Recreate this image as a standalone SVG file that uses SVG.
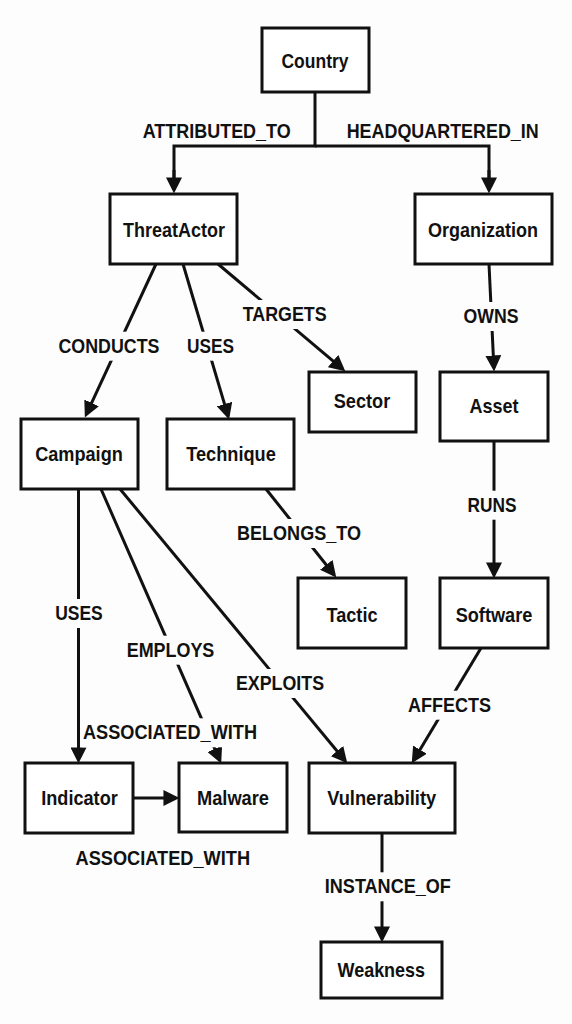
<svg xmlns="http://www.w3.org/2000/svg" width="572" height="1024" viewBox="0 0 572 1024">
<style>
.box{fill:#fff;stroke:#111;stroke-width:3}
.edge{fill:none;stroke:#111;stroke-width:3}
.arr{marker-end:url(#ah)}
text{font-family:"Liberation Sans",Arial,sans-serif;font-weight:bold;font-size:21px;fill:#111;text-anchor:middle}
.bg{fill:#fdfdfd;stroke:none}
</style>
<defs>
<marker id="ah" markerUnits="userSpaceOnUse" markerWidth="16" markerHeight="16" refX="11" refY="7" orient="auto" viewBox="0 0 14 14">
<path d="M0,0 L14,7 L0,14 z" fill="#111"/>
</marker>
</defs>
<rect width="572" height="1024" fill="#fdfdfd"/>

<g id="connectors">
<path class="edge" d="M315,92 V146 H174 V190"/>
<path class="edge" d="M315,146 H489 V190"/>
<path class="edge arr" d="M174,170 V190"/>
<path class="edge arr" d="M489,170 V190"/>
<path class="edge arr" d="M156,264 L86.3,414.3"/>
<path class="edge arr" d="M183,264 L228.1,416.1"/>
<path class="edge arr" d="M218,264 L342.7,369.1"/>
<path class="edge arr" d="M489,264 L493.9,368"/>
<path class="edge arr" d="M494,441 V575"/>
<path class="edge arr" d="M266,489 L334.1,574.7"/>
<path class="edge arr" d="M78.5,489 V760"/>
<path class="edge arr" d="M101,489 L219.8,760.3"/>
<path class="edge arr" d="M120,489 L345.1,760.7"/>
<path class="edge arr" d="M481,648 L413.5,760.4"/>
<path class="edge arr" d="M133,798 H176"/>
<path class="edge arr" d="M382,833 V939"/>
<g id="edge-labels">
<text x="216.7" y="138.3" textLength="148" lengthAdjust="spacingAndGlyphs">ATTRIBUTED_TO</text>
<text x="442.7" y="138.3" textLength="192" lengthAdjust="spacingAndGlyphs">HEADQUARTERED_IN</text>
<rect class="bg" x="56.4" y="331.7" width="105" height="29"/>
<text x="109" y="352.7" textLength="101" lengthAdjust="spacingAndGlyphs">CONDUCTS</text>
<rect class="bg" x="184.9" y="331.7" width="51" height="29"/>
<text x="210.6" y="352.7" textLength="47" lengthAdjust="spacingAndGlyphs">USES</text>
<rect class="bg" x="240.7" y="300" width="88" height="29"/>
<text x="284.7" y="321" textLength="84" lengthAdjust="spacingAndGlyphs">TARGETS</text>
<rect class="bg" x="461.5" y="302" width="59" height="29"/>
<text x="491" y="323" textLength="55" lengthAdjust="spacingAndGlyphs">OWNS</text>
<rect class="bg" x="465" y="490.7" width="53" height="29"/>
<text x="492" y="511.7" textLength="49" lengthAdjust="spacingAndGlyphs">RUNS</text>
<rect class="bg" x="235" y="519" width="128" height="29"/>
<text x="299" y="540" textLength="124" lengthAdjust="spacingAndGlyphs">BELONGS_TO</text>
<rect class="bg" x="53.5" y="599" width="51.5" height="29"/>
<text x="79" y="620" textLength="47.5" lengthAdjust="spacingAndGlyphs">USES</text>
<rect class="bg" x="124.6" y="635.7" width="91.6" height="29"/>
<text x="170.5" y="656.7" textLength="87.6" lengthAdjust="spacingAndGlyphs">EMPLOYS</text>
<rect class="bg" x="234" y="669" width="92" height="29"/>
<text x="280" y="690" textLength="88" lengthAdjust="spacingAndGlyphs">EXPLOITS</text>
<rect class="bg" x="405.7" y="690.7" width="87" height="29"/>
<text x="449.4" y="711.7" textLength="83" lengthAdjust="spacingAndGlyphs">AFFECTS</text>
<rect class="bg" x="82" y="718.3" width="177" height="29"/>
<text x="170" y="739.3" textLength="174" lengthAdjust="spacingAndGlyphs">ASSOCIATED_WITH</text>
<text x="162.8" y="865" textLength="174.5" lengthAdjust="spacingAndGlyphs">ASSOCIATED_WITH</text>
<rect class="bg" x="322.8" y="872.3" width="130" height="29"/>
<text x="387.8" y="893.3" textLength="126" lengthAdjust="spacingAndGlyphs">INSTANCE_OF</text>
</g>
</g>

<g id="Country"><rect class="box" x="262" y="28" width="107" height="64"/><text x="315" y="68" textLength="67" lengthAdjust="spacingAndGlyphs">Country</text></g>
<g id="ThreatActor"><rect class="box" x="110" y="194" width="127" height="70"/><text x="174" y="237" textLength="102" lengthAdjust="spacingAndGlyphs">ThreatActor</text></g>
<g id="Organization"><rect class="box" x="415" y="194" width="137" height="70"/><text x="483" y="237" textLength="110" lengthAdjust="spacingAndGlyphs">Organization</text></g>
<g id="Sector"><rect class="box" x="309" y="372" width="107" height="60"/><text x="362" y="408" textLength="56.5" lengthAdjust="spacingAndGlyphs">Sector</text></g>
<g id="Asset"><rect class="box" x="440" y="372" width="108" height="69"/><text x="494" y="413.3" textLength="49" lengthAdjust="spacingAndGlyphs">Asset</text></g>
<g id="Campaign"><rect class="box" x="21" y="419" width="117" height="70"/><text x="79" y="460.5" textLength="87.6" lengthAdjust="spacingAndGlyphs">Campaign</text></g>
<g id="Technique"><rect class="box" x="167" y="419" width="127" height="70"/><text x="231" y="461.3" textLength="89.5" lengthAdjust="spacingAndGlyphs">Technique</text></g>
<g id="Tactic"><rect class="box" x="298" y="578" width="108" height="70"/><text x="352" y="621.5" textLength="51" lengthAdjust="spacingAndGlyphs">Tactic</text></g>
<g id="Software"><rect class="box" x="440" y="578" width="108" height="70"/><text x="494" y="621.5" textLength="76.6" lengthAdjust="spacingAndGlyphs">Software</text></g>
<g id="Indicator"><rect class="box" x="25" y="763" width="108" height="70"/><text x="79.5" y="805" textLength="76.5" lengthAdjust="spacingAndGlyphs">Indicator</text></g>
<g id="Malware"><rect class="box" x="179" y="763" width="108" height="69"/><text x="233" y="805" textLength="72" lengthAdjust="spacingAndGlyphs">Malware</text></g>
<g id="Vulnerability"><rect class="box" x="309" y="763" width="146" height="70"/><text x="381.7" y="805" textLength="109" lengthAdjust="spacingAndGlyphs">Vulnerability</text></g>
<g id="Weakness"><rect class="box" x="321" y="942" width="121" height="56"/><text x="381.3" y="977.3" textLength="87.6" lengthAdjust="spacingAndGlyphs">Weakness</text></g>
</svg>
